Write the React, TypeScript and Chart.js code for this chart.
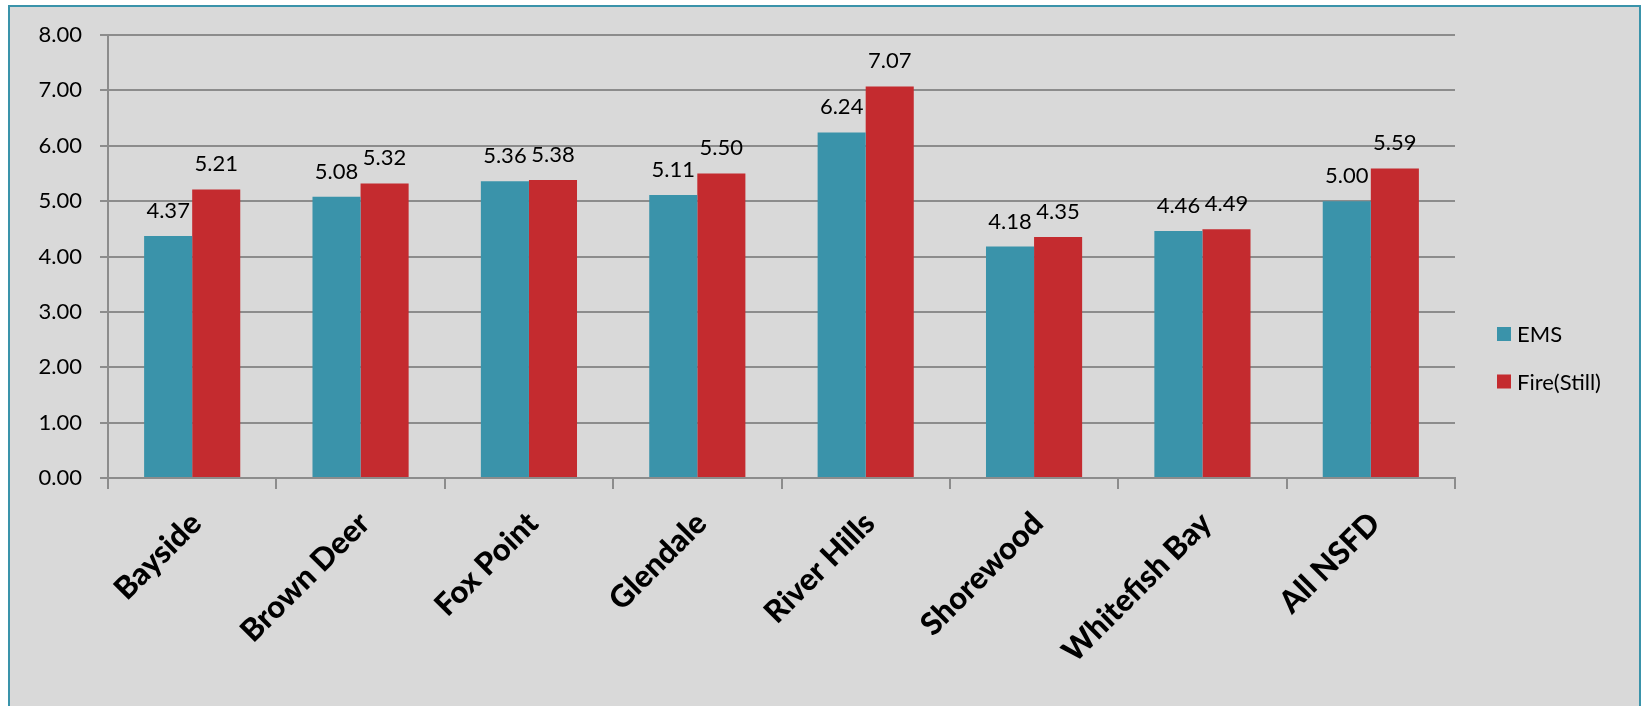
import React, { useEffect, useRef } from "react";
import { Chart, registerables } from "chart.js";

Chart.register(...registerables);

const categories = [
  "Bayside",
  "Brown Deer",
  "Fox Point",
  "Glendale",
  "River Hills",
  "Shorewood",
  "Whitefish Bay",
  "All NSFD",
];
const emsValues = [4.37, 5.08, 5.36, 5.11, 6.24, 4.18, 4.46, 5.0];
const fireValues = [5.21, 5.32, 5.38, 5.5, 7.07, 4.35, 4.49, 5.59];
const seriesNames = ["EMS", "Fire(Still)"];
const seriesColors = ["#3a93aa", "#c42b2f"];
const yMin = 0;
const yMax = 8;
const yStep = 1;

const FONT = "Lato, 'Open Sans', sans-serif";
const GRID = "#8c8c8c";

const dataLabelPlugin = {
  id: "dataLabels",
  afterDatasetsDraw(chart: any) {
    const ctx = chart.ctx;
    ctx.save();
    ctx.font = `22px ${FONT}`;
    ctx.fillStyle = "#000";
    ctx.textAlign = "center";
    ctx.textBaseline = "alphabetic";
    chart.data.datasets.forEach((ds: any, di: number) => {
      const meta = chart.getDatasetMeta(di);
      meta.data.forEach((bar: any, i: number) => {
        const v = ds.data[i];
        ctx.fillText(Number(v).toFixed(2), bar.x, bar.y - 18);
      });
    });
    ctx.restore();
  },
};

const legendPlugin = {
  id: "sideLegend",
  afterDraw(chart: any) {
    const ctx = chart.ctx;
    const area = chart.chartArea;
    const boxX = area.right + 42;
    const yStart = 327;
    const gap = 47.5;
    ctx.save();
    ctx.font = `22px ${FONT}`;
    ctx.textAlign = "left";
    ctx.textBaseline = "middle";
    chart.data.datasets.forEach((ds: any, i: number) => {
      const cy = yStart + i * gap;
      ctx.fillStyle = ds.backgroundColor;
      ctx.fillRect(boxX, cy - 7, 14, 14);
      ctx.fillStyle = "#000";
      ctx.fillText(ds.label, boxX + 20, cy + 1);
    });
    ctx.restore();
  },
};

export default function App() {
  const canvasRef = useRef<HTMLCanvasElement | null>(null);

  useEffect(() => {
    document.documentElement.style.overflow = "hidden";
    document.body.style.overflow = "hidden";
    const canvas = canvasRef.current;
    if (!canvas) return;
    const chart = new Chart(canvas, {
      type: "bar",
      data: {
        labels: categories,
        datasets: [
          {
            label: seriesNames[0],
            data: emsValues,
            backgroundColor: seriesColors[0],
            barPercentage: 1,
            categoryPercentage: 0.571,
          },
          {
            label: seriesNames[1],
            data: fireValues,
            backgroundColor: seriesColors[1],
            barPercentage: 1,
            categoryPercentage: 0.571,
          },
        ],
      },
      options: {
        responsive: false,
        animation: false,
        devicePixelRatio: 1,
        layout: { padding: { top: 28, right: 184, left: 0, bottom: 0 } },
        plugins: {
          legend: { display: false },
          tooltip: { enabled: false },
          title: { display: false },
        },
        scales: {
          x: {
            offset: true,
            grid: {
              offset: true,
              display: true,
              drawOnChartArea: false,
              drawTicks: true,
              tickLength: 11,
              color: GRID,
              lineWidth: 2,
            },
            border: { display: true, color: GRID, width: 2 },
            ticks: {
              minRotation: 45,
              maxRotation: 45,
              autoSkip: false,
              padding: 16,
              labelOffset: 4,
              color: "#000",
              font: { family: FONT, size: 31, weight: "900" },
            },
            afterFit(scale: any) {
              scale.height = 226;
            },
          },
          y: {
            min: yMin,
            max: yMax,
            grid: {
              display: true,
              drawOnChartArea: true,
              drawTicks: true,
              tickLength: 8,
              color: GRID,
              lineWidth: 2,
            },
            border: { display: true, color: GRID, width: 2 },
            ticks: {
              stepSize: yStep,
              padding: 18,
              color: "#000",
              font: { family: FONT, size: 22 },
              callback: (v: any) => Number(v).toFixed(2),
            },
            afterFit(scale: any) {
              scale.width = 98;
              scale.paddingTop = 0;
              scale.paddingBottom = 0;
            },
          },
        },
      },
      plugins: [dataLabelPlugin, legendPlugin],
    } as any);
    return () => chart.destroy();
  }, []);

  return (
    <div
      style={{
        position: "fixed",
        left: 8,
        top: 5,
        width: 1633,
        height: 720,
        boxSizing: "border-box",
        border: "2px solid #3a93aa",
        background: "#d9d9d9",
      }}
    >
      <canvas ref={canvasRef} width={1629} height={697} style={{ display: "block" }} />
    </div>
  );
}
